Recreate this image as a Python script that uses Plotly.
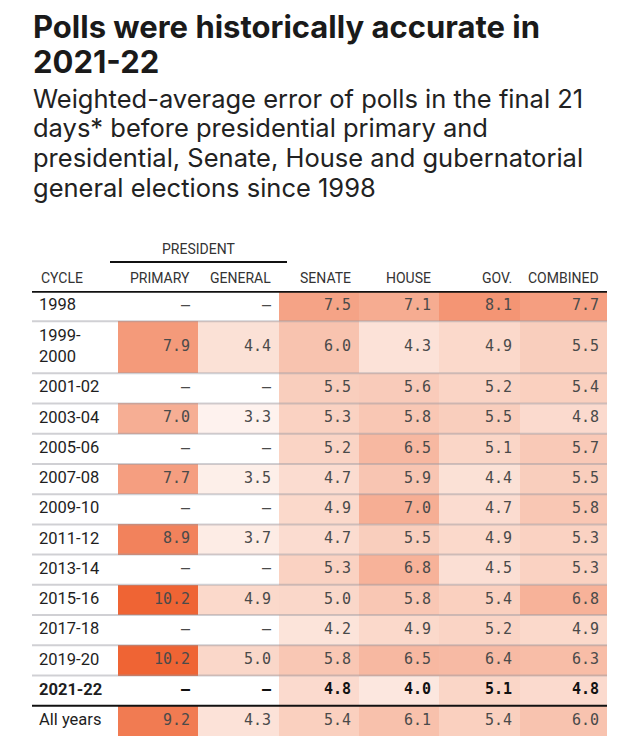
import plotly.graph_objects as go

# ---------------- data ----------------
cycles = ["1998", "1999-2000", "2001-02", "2003-04", "2005-06", "2007-08", "2009-10",
          "2011-12", "2013-14", "2015-16", "2017-18", "2019-20", "2021-22", "All years"]
columns = ["PRIMARY", "GENERAL", "SENATE", "HOUSE", "GOV.", "COMBINED"]
primary = [None, 7.9, None, 7.0, None, 7.7, None, 8.9, None, 10.2, None, 10.2, None, 9.2]
general = [None, 4.4, None, 3.3, None, 3.5, None, 3.7, None, 4.9, None, 5.0, None, 4.3]
senate = [7.5, 6.0, 5.5, 5.3, 5.2, 4.7, 4.9, 4.7, 5.3, 5.0, 4.2, 5.8, 4.8, 5.4]
house = [7.1, 4.3, 5.6, 5.8, 6.5, 5.9, 7.0, 5.5, 6.8, 5.8, 4.9, 6.5, 4.0, 6.1]
gov = [8.1, 4.9, 5.2, 5.5, 5.1, 4.4, 4.7, 4.9, 4.5, 5.4, 5.2, 6.4, 5.1, 5.4]
combined = [7.7, 5.5, 5.4, 4.8, 5.7, 5.5, 5.8, 5.3, 5.3, 6.8, 4.9, 6.3, 4.8, 6.0]
series = [primary, general, senate, house, gov, combined]
group_label = "PRESIDENT"
highlight = "2021-22"
title_lines = ["Polls were historically accurate in", "2021-22"]
subtitle_lines = ["Weighted-average error of polls in the final 21",
                  "days* before presidential primary and",
                  "presidential, Senate, House and gubernatorial",
                  "general elections since 1998"]

# ---------------- layout geometry ----------------
OFF = 8                      # default page body margin of the html page
W, H = 640 - OFF, 743 - OFF
ML, MR, MT, MB = 32 - OFF, 33, 291 - OFF, 7
col_widths = [86, 80, 81, 80, 80, 81, 87]          # cycle column + 6 value columns
plot_h = H - MT - MB


def label_lines(c):
    return c.replace("-", "-<br>", 1) if (len(c) > 7 and c != "All years") else c


n_two_line = sum(1 for c in cycles if "<br>" in label_lines(c))
base_h = (plot_h - 52 * n_two_line) / (len(cycles) - n_two_line)
row_h = [52 if "<br>" in label_lines(c) else base_h for c in cycles]
row_edges = [0]
for h in row_h:
    row_edges.append(row_edges[-1] + h)
row_mid = [(row_edges[i] + row_edges[i + 1]) / 2 for i in range(len(cycles))]
col_edges = [0]
for w in col_widths:
    col_edges.append(col_edges[-1] + w)
val_edges = col_edges[1:]
plot_w = col_edges[-1]


def ypaper(p):  # page pixel -> paper y
    return (H - MB - (p - OFF)) / plot_h


def xpaper(px):  # page pixel -> paper x
    return (px - OFF - ML) / plot_w


colorscale = [[0, "#ffffff"], [0.35, "#fad4c5"], [0.65, "#f5a386"], [1, "#ef6434"]]

z = [[series[j][i] for j in range(len(columns))] for i in range(len(cycles))]

fig = go.Figure()
fig.add_trace(go.Heatmap(
    x=val_edges, y=row_edges, z=z, colorscale=colorscale, zmin=2.5, zmax=10.2,
    showscale=False, hoverinfo="skip", xgap=0, ygap=0))

# value text
pad = 8
for j, col in enumerate(columns):
    xs, ys, txt, colors = [], [], [], []
    for i, c in enumerate(cycles):
        v = series[j][i]
        s = "–" if v is None else f"{v:.1f}"
        if c == highlight:
            s = f"<b>{s}</b>"
            colors.append("#111111")
        else:
            colors.append("#4a4a4a")
        xs.append(val_edges[j + 1] - pad)
        ys.append(row_mid[i])
        txt.append(s)
    fig.add_trace(go.Scatter(
        x=xs, y=ys, mode="text", text=txt, textposition="middle left",
        textfont=dict(family="DejaVu Sans Mono", size=15, color=colors),
        hoverinfo="skip", showlegend=False, cliponaxis=False))

# cycle labels
fig.add_trace(go.Scatter(
    x=[7] * len(cycles), y=row_mid,
    text=[f"<b>{label_lines(c)}</b>" if c == highlight else label_lines(c) for c in cycles],
    mode="text", textposition="middle right",
    textfont=dict(family="Roboto", size=16.5, color="#1e1e1e"),
    hoverinfo="skip", showlegend=False, cliponaxis=False))

shapes = []
for k in range(1, len(cycles)):
    if cycles[k] == "All years":
        shapes.append(dict(type="line", xref="x", yref="y", x0=0, x1=plot_w,
                           y0=row_edges[k], y1=row_edges[k], line=dict(color="#111", width=2.2),
                           layer="above"))
    else:
        shapes.append(dict(type="line", xref="x", yref="y", x0=0, x1=plot_w,
                           y0=row_edges[k], y1=row_edges[k],
                           line=dict(color="rgba(150,150,160,0.45)", width=2), layer="above"))
shapes.append(dict(type="line", xref="x", yref="y", x0=0, x1=plot_w, y0=0, y1=0,
                   line=dict(color="#111", width=3.5), layer="above"))
shapes.append(dict(type="line", xref="x", yref="paper", x0=col_edges[1] - 8, x1=col_edges[3] + 8,
                   y0=ypaper(262), y1=ypaper(262), line=dict(color="#111", width=2)))

annotations = []
hdr_font = dict(family="Roboto", size=14, color="#333")
annotations.append(dict(x=7, y=ypaper(278), xref="x", yref="paper", text="CYCLE", showarrow=False,
                        xanchor="left", yanchor="middle", font=hdr_font))
for j, col in enumerate(columns):
    annotations.append(dict(x=val_edges[j + 1] - 6, y=ypaper(278), xref="x", yref="paper",
                            text=col, showarrow=False, xanchor="right", yanchor="middle",
                            font=hdr_font))
annotations.append(dict(x=(col_edges[1] + col_edges[3]) / 2, y=ypaper(249), xref="x",
                        yref="paper", text=group_label, showarrow=False, xanchor="center",
                        yanchor="middle", font=hdr_font))
for t, yp in zip(title_lines, [26, 61]):
    annotations.append(dict(x=xpaper(31), y=ypaper(yp), xref="paper", yref="paper",
                            text=f"<b>{t}</b>", showarrow=False, xanchor="left",
                            yanchor="middle",
                            font=dict(family="Inter", size=31, color="#1a1a1a")))
for t, yp in zip(subtitle_lines, [98, 128, 158, 187.5]):
    annotations.append(dict(x=xpaper(31), y=ypaper(yp), xref="paper", yref="paper", text=t,
                            showarrow=False, xanchor="left", yanchor="middle",
                            font=dict(family="Inter", size=25.5, color="#222")))

fig.update_layout(
    width=W, height=H, margin=dict(l=ML, r=MR, t=MT, b=MB, autoexpand=False),
    paper_bgcolor="white", plot_bgcolor="white",
    xaxis=dict(range=[0, plot_w], visible=False, fixedrange=True),
    yaxis=dict(range=[row_edges[-1], 0], visible=False, fixedrange=True),
    shapes=shapes, annotations=annotations, showlegend=False)

fig.write_html("out.html")
